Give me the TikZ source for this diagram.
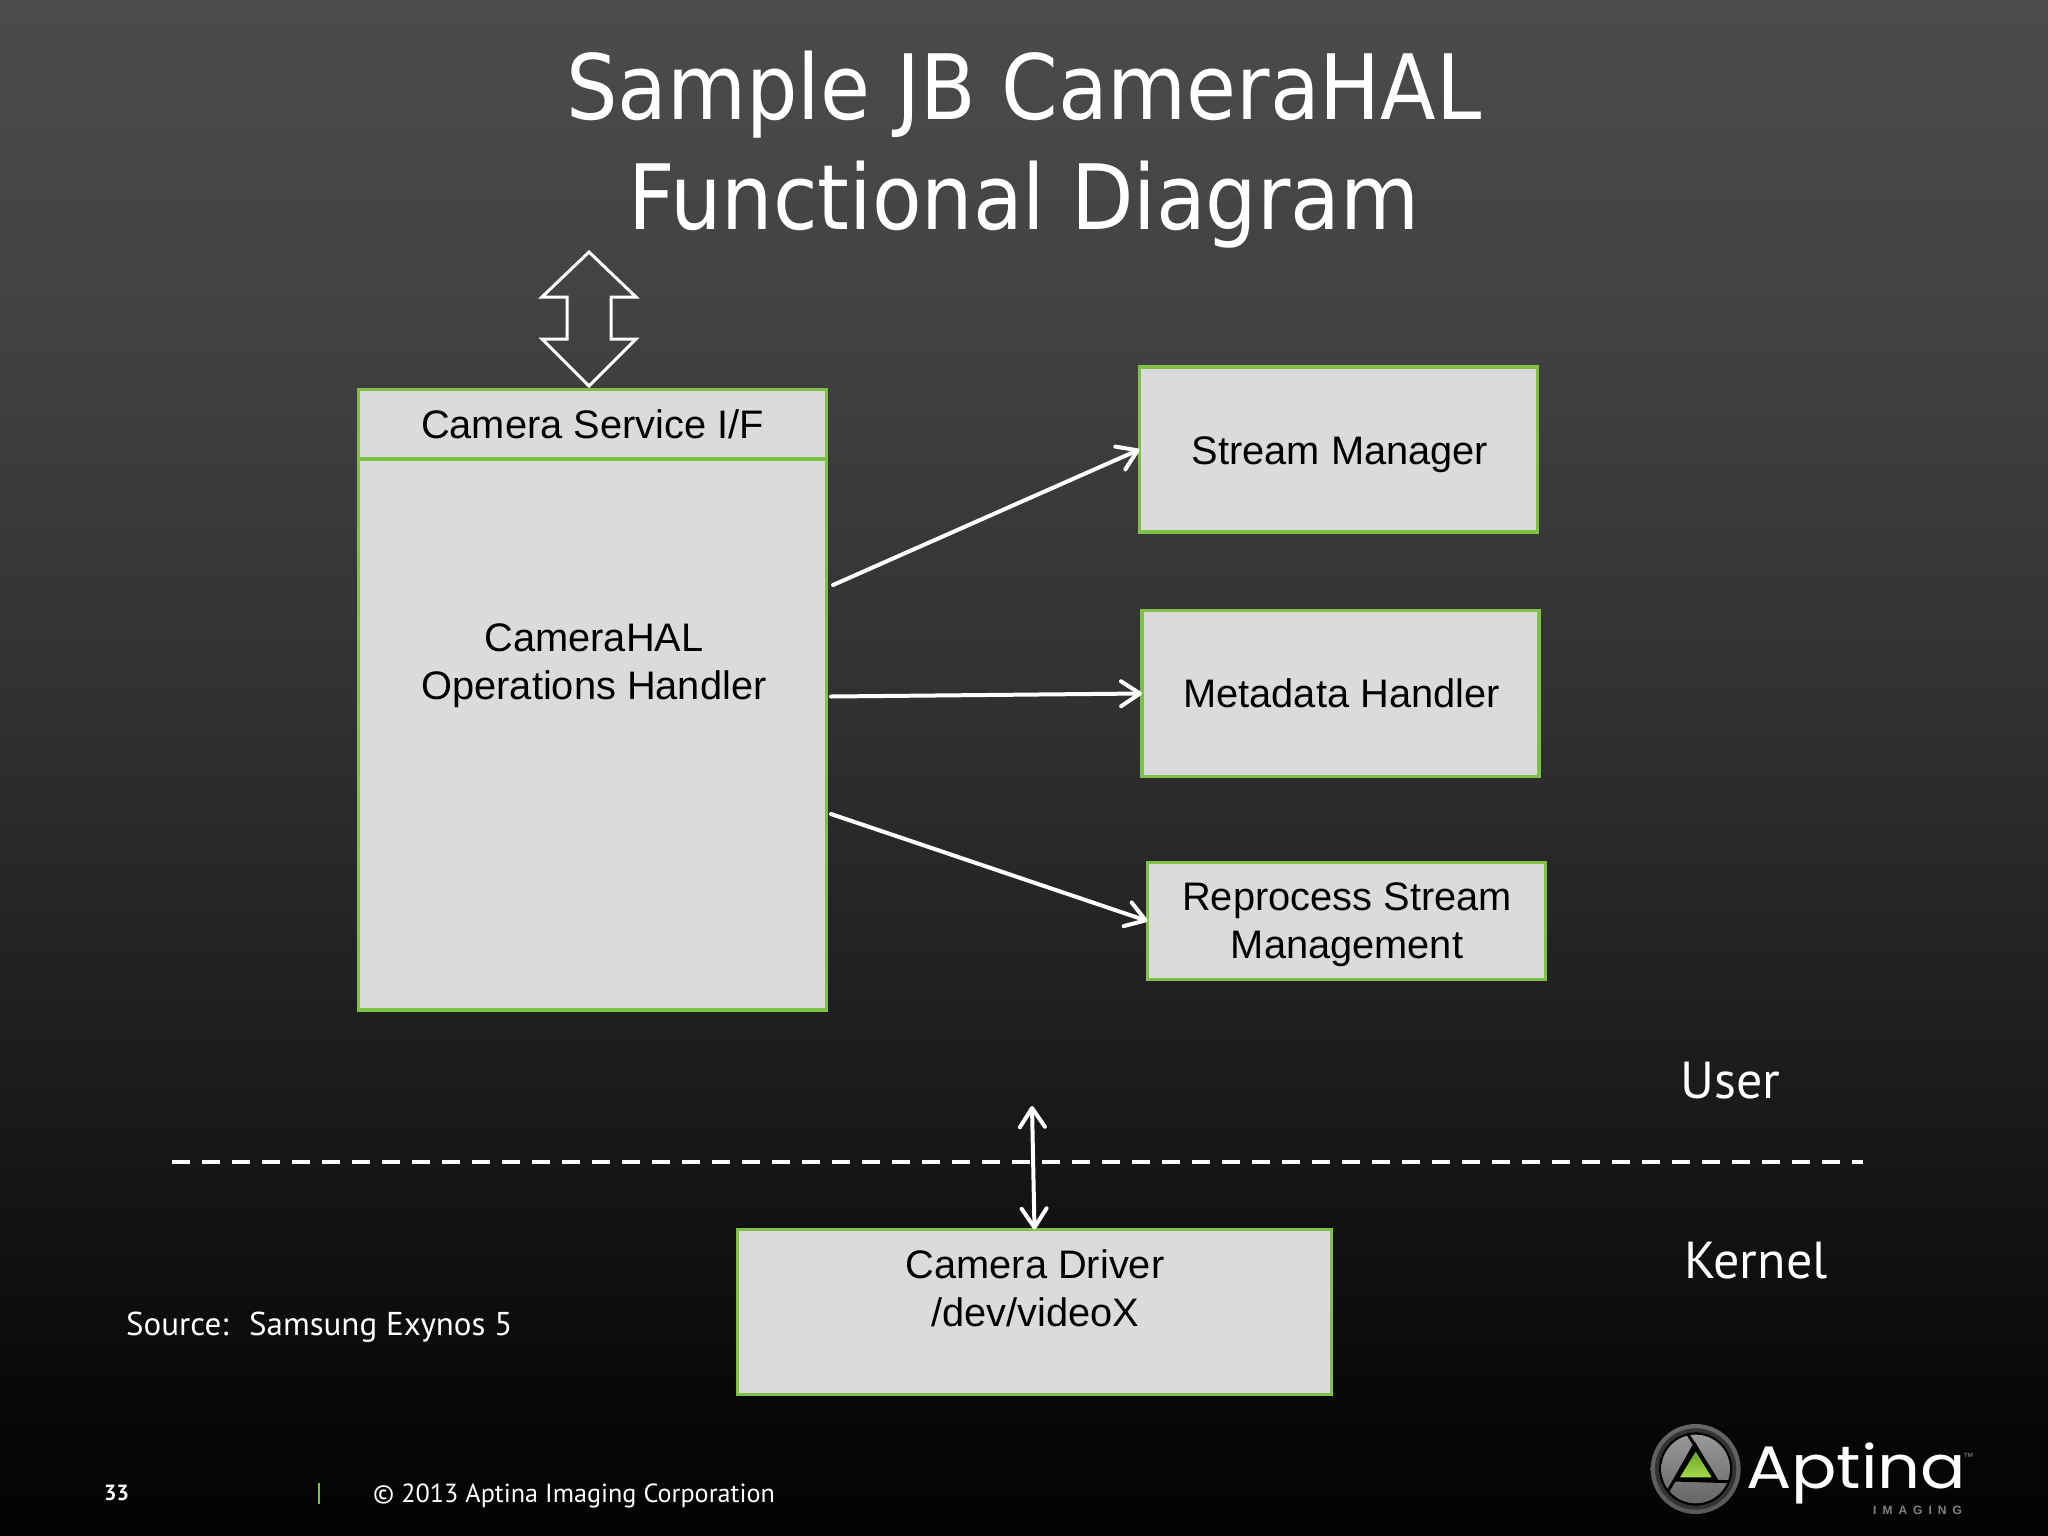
\documentclass[tikz,border=0pt]{standalone}
\usepackage{fontspec}
\usetikzlibrary{arrows.meta}
\setmainfont{Liberation Sans}
\newfontfamily\ttl{DejaVu Sans Condensed}
\newfontfamily\pts{PT Sans}
\newfontfamily\logofont[FakeStretch=1.12]{Poppins}
\definecolor{boxfill}{HTML}{DCDBDC}
\definecolor{boxline}{HTML}{7DC242}
\definecolor{lgreenA}{HTML}{6AA82A}
\definecolor{lgreenB}{HTML}{A8D84A}
\pgfdeclareverticalshading{bgsh}{100bp}{
 rgb(0bp)=(0.015,0.015,0.015);
 rgb(25bp)=(0.015,0.015,0.015);
 rgb(27.8bp)=(0.02,0.02,0.02);
 rgb(39bp)=(0.10,0.10,0.10);
 rgb(52bp)=(0.19,0.19,0.19);
 rgb(65bp)=(0.26,0.26,0.26);
 rgb(75bp)=(0.295,0.295,0.295);
 rgb(100bp)=(0.295,0.295,0.295)}
\tikzset{
 box/.style={draw=boxline,fill=boxfill,line width=3.4pt,inner sep=0pt,outer sep=0pt,anchor=north west},
 lbl/.style={inner sep=0pt,align=center,text=black,font=\fontsize{39.8}{48}\selectfont},
 wtxt/.style={inner sep=0pt,text=white,anchor=base west},
 conn/.style={draw=white,line width=4pt,line cap=round,-{Straight Barb[length=19pt,width=25pt,line cap=round,line join=round]}},
 dconn/.style={draw=white,line width=4pt,line cap=round,{Straight Barb[length=19pt,width=25pt,line cap=round,line join=round]}-{Straight Barb[length=19pt,width=25pt,line cap=round,line join=round]}}
}
\begin{document}
\begin{tikzpicture}[x=1pt,y=-1pt]
\useasboundingbox (0,0) rectangle (2048,1536);
\shade[shading=bgsh] (0,0) rectangle (2048,1536);
% title
\node[inner sep=0pt,text=white,anchor=base,font=\ttl\fontsize{90.2}{90.2}\selectfont] (t1) at (1024,120) {Sample JB CameraHAL};
\node[inner sep=0pt,text=white,anchor=base,font=\ttl\fontsize{90.2}{90.2}\selectfont] (t2) at (1024,229) {Functional Diagram};
% big outline double arrow
\draw[white,line width=3pt,miter limit=10] (589,252) -- (636,297) -- (611,297) -- (611,339) -- (636,339) -- (589,386) -- (542,339) -- (567,339) -- (567,297) -- (542,297) -- cycle;
% boxes
\node[box,minimum width=468pt,minimum height=69pt] (csi) at (358.5,389.5) {};
\node[box,minimum width=468pt,minimum height=551pt] (hal) at (358.5,459) {};
\node[box,minimum width=398pt,minimum height=165pt] (sm) at (1139.5,367) {};
\node[box,minimum width=397pt,minimum height=166pt] (md) at (1142,610.5) {};
\node[box,minimum width=398pt,minimum height=117pt] (rp) at (1147.5,862.5) {};
\node[box,minimum width=594pt,minimum height=165pt] (drv) at (737.5,1229.5) {};
% box texts
\node[lbl] (csit) at (592.5,424.5) {Camera Service I/F};
\node[lbl] (halt) at (594,666) {CameraHAL\\Operations Handler};
\node[lbl] (smt) at (1340,455) {Stream Manager};
\node[lbl] (mdt) at (1341.5,693.7) {Metadata Handler};
\node[lbl] (rpt) at (1347,925) {Reprocess Stream\\Management};
\node[lbl] (drvt) at (1035,1288) {Camera Driver\\/dev/videoX};
% connector ends
\coordinate (a1) at (833,585);
\coordinate (a2) at (831,696.5);
\coordinate (a3) at (831,814);
\coordinate (a4) at (1032,1106);
\coordinate (d1) at (172,1162);
\coordinate (d2) at (1863,1162);
% dashed boundary
\draw[white,line width=4.6pt,dash pattern=on 17.6pt off 12.4pt] (d1) -- (d2);
% connectors
\draw[conn] (a1) -- (sm.west);
\draw[conn] (a2) -- (md.west);
\draw[conn] (a3) -- (rp.west);
\draw[dconn] (a4) -- (drv.north);
% side labels
\node[wtxt,font=\pts\fontsize{52}{52}\selectfont] (user) at (1680,1098) {User};
\node[wtxt,font=\pts\fontsize{52}{52}\selectfont] (kern) at (1684,1278) {Kernel};
\node[wtxt,font=\pts\fontsize{33}{33}\selectfont] (src) at (126,1335) {Source:\ \ \hspace{3pt}Samsung Exynos 5};
% footer
\node[wtxt,font=\pts\bfseries\fontsize{22}{22}\selectfont] (pg) at (104,1500) {33};
\node[wtxt,font=\pts\fontsize{26.2}{26.2}\selectfont] (cp) at (373,1502) {© 2013 Aptina Imaging Corporation};
\draw[boxline,line width=1.6pt] (319,1483) -- (319,1504);
% logo
\begin{scope}[shift={(1600,1400)},x=0.3333pt,y=-0.3333pt]
\shade[top color=black!60!white,bottom color=black!65!white] (287,207) circle[radius=135];
\fill[black!80] (287,207) circle[radius=122];
\fill[black] (287,207) circle[radius=110];
\shade[top color=black!40,bottom color=black!60] (287,207) circle[radius=103];
\draw[black,line width=3pt] (262,100) -- (350,240);
\draw[black,line width=3pt] (385,245) -- (220,240);
\draw[black,line width=3pt] (283,135) -- (205,272);
\fill[black] (285,125) -- (350,240) -- (222,240) -- cycle;
\shade[top color=lgreenA,bottom color=lgreenB] (287,155) -- (335,232) -- (240,232) -- cycle;
\end{scope}
\node[wtxt,font=\logofont\fontsize{60}{60}\selectfont] (apt) at (1746,1488) {Aptina};
\node[inner sep=0pt,text=black!35,anchor=base west,font=\fontsize{6}{6}\selectfont] (tm) at (1964,1457) {TM};
\node[inner sep=0pt,text=black!50,anchor=base west,font=\bfseries\fontsize{12}{12}\selectfont] (img) at (1873,1514) {I\,\,\,M\,\,\,A\,\,\,G\,\,\,I\,\,\,N\,\,\,G};
\end{tikzpicture}
\end{document}
